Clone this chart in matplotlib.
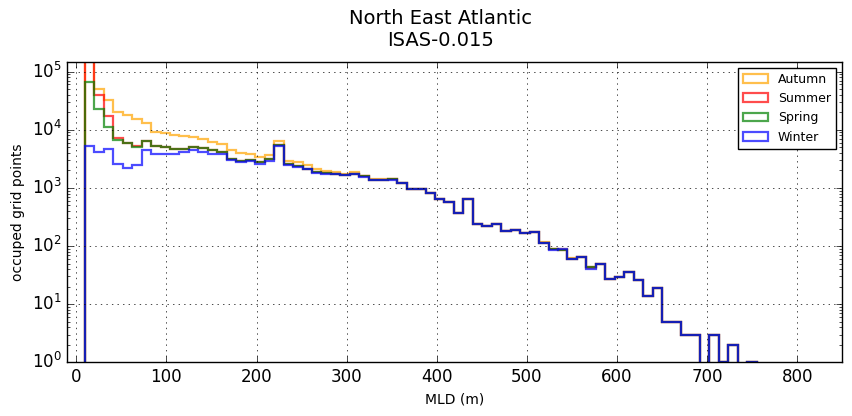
import numpy as np
import matplotlib
matplotlib.use("Agg")
import matplotlib.pyplot as plt
from matplotlib.ticker import MultipleLocator

# MLD histogram bins (m): 71 bins of 10.5 m starting at 9.5 m
edges = 9.5 + 10.5 * np.arange(72)

# counts per bin
autumn = [2.0e5, 5.0e4, 3.2e4, 2.05e4, 1.8e4, 1.52e4, 1.33e4, 9.3e3, 8.7e3, 8.2e3,
          7.85e3, 7.6e3, 7.0e3, 6.2e3, 5.6e3, 4.4e3, 4.05e3, 3.85e3, 3.45e3, 3.7e3,
          6.3e3, 2.95e3, 2.8e3, 2.5e3, 2.1e3, 1.99e3, 1.88e3, 1.74e3, 1.86e3, 1.61e3,
          1.43e3, 1.42e3, 1.43e3, 1.23e3, 960, 955, 815, 650, 570, 368,
          640, 240, 225, 238, 185, 188, 167, 176, 116, 88,
          88, 63, 64, 42, 50, 27, 29, 36, 26, 14,
          19, 5, 5, 3, 3, 0, 3, 1, 2, 0, 1]
summer = [3.0e5, 4.0e4, 1.69e4, 7.3e3, 6.0e3, 5.2e3, 6.4e3, 5.3e3, 5.1e3, 4.65e3,
          4.6e3, 5.1e3, 4.8e3, 4.4e3, 4.15e3, 3.2e3, 2.95e3, 3.05e3, 2.8e3, 3.1e3,
          5.5e3, 2.55e3, 2.35e3, 2.15e3, 1.88e3, 1.77e3, 1.71e3, 1.68e3, 1.74e3, 1.57e3,
          1.38e3, 1.37e3, 1.4e3, 1.22e3, 955, 950, 812, 648, 567, 367,
          639, 240, 224, 237, 184, 187, 166, 175, 115, 88,
          87, 61, 64, 43, 50, 27, 29, 36, 26, 14,
          19, 5, 5, 3, 3, 0, 3, 1, 2, 0, 1]
spring = [6.5e4, 2.26e4, 1.13e4, 6.7e3, 5.9e3, 5.1e3, 6.4e3, 5.3e3, 5.1e3, 4.6e3,
          4.6e3, 5.1e3, 4.8e3, 4.4e3, 4.15e3, 3.2e3, 2.95e3, 3.05e3, 2.8e3, 3.1e3,
          5.5e3, 2.55e3, 2.35e3, 2.15e3, 1.88e3, 1.77e3, 1.71e3, 1.68e3, 1.74e3, 1.57e3,
          1.38e3, 1.37e3, 1.4e3, 1.22e3, 955, 950, 812, 648, 567, 367,
          639, 240, 224, 237, 184, 187, 166, 175, 115, 88,
          87, 61, 64, 43, 50, 27, 29, 36, 26, 14,
          19, 5, 5, 3, 3, 0, 3, 1, 2, 0, 1]
winter = [5.3e3, 4.1e3, 4.7e3, 2.6e3, 2.24e3, 2.5e3, 4.4e3, 3.85e3, 3.9e3, 3.8e3,
          4.1e3, 4.5e3, 4.2e3, 3.9e3, 3.85e3, 3.0e3, 2.8e3, 2.9e3, 2.6e3, 2.95e3,
          5.3e3, 2.43e3, 2.33e3, 2.1e3, 1.83e3, 1.75e3, 1.7e3, 1.67e3, 1.73e3, 1.56e3,
          1.37e3, 1.36e3, 1.39e3, 1.2e3, 950, 950, 811, 647, 567, 367,
          639, 240, 222, 237, 184, 187, 166, 175, 115, 86,
          88, 60, 64, 41, 50, 27, 29, 36, 26, 14,
          19, 5, 5, 3, 3, 0, 3, 1, 2, 0, 1]

seasons = ["Autumn", "Summer", "Spring", "Winter"]
colors = ["orange", "r", "g", "b"]

plt.style.use("classic")
fig = plt.figure(figsize=(8.52, 4.16), dpi=100)
ax = fig.add_axes([0.079, 0.129, 0.9096, 0.7227])

centers = 0.5 * (edges[:-1] + edges[1:])
for name, counts, c in zip(seasons, [autumn, summer, spring, winter], colors):
    ax.hist(centers, bins=edges, weights=counts, histtype="step",
            color=c, lw=1.6, alpha=0.7, label=name, log=True)

ax.set_yscale("log")
ax.set_xlim(-10, 850)
ax.set_ylim(1, 1.48e5)
ax.xaxis.set_major_locator(MultipleLocator(100))
ax.grid(True)
ax.set_xlabel("MLD (m)", fontsize=10)
ax.set_ylabel("occuped grid points", fontsize=10)
ax.set_title("North East Atlantic\nISAS-0.015", fontsize=14, x=0.482, pad=11)
ax.legend(loc="upper right", fontsize=9)

fig.savefig("out.png", dpi=100)
